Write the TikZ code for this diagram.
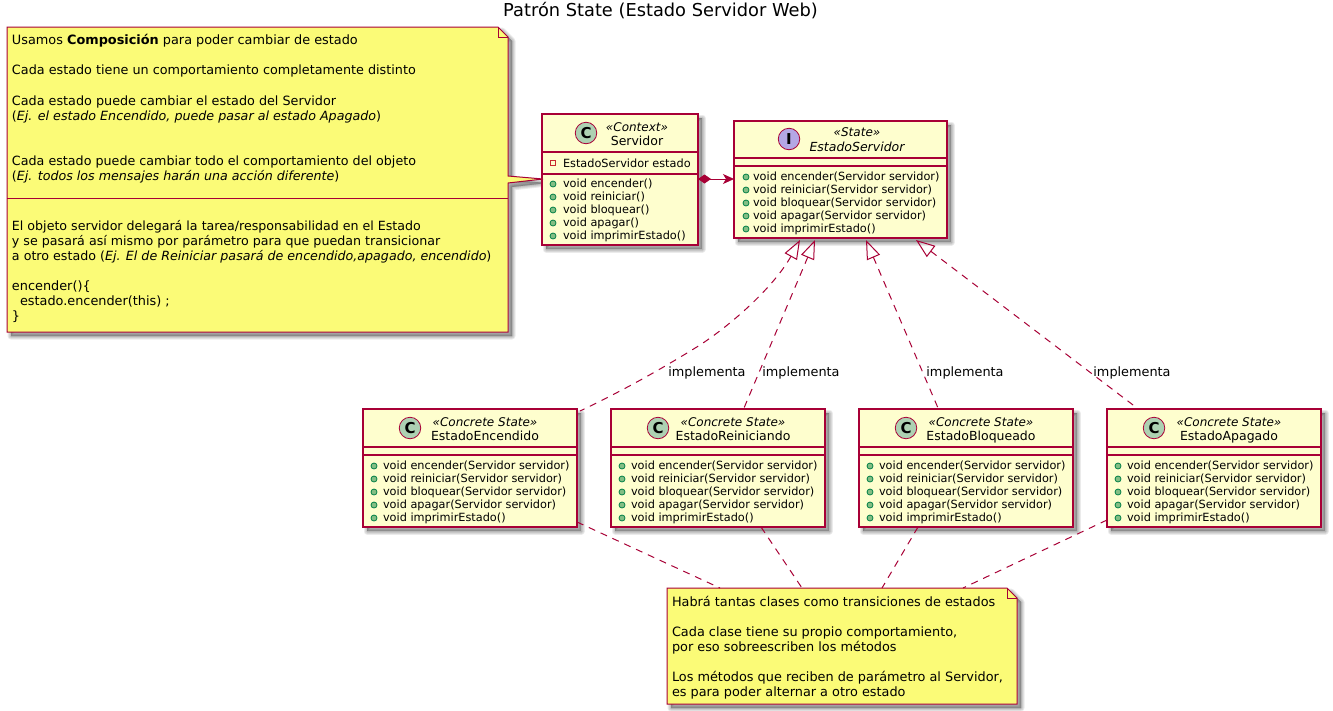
\documentclass[tikz,border=0pt]{standalone}
\usepackage{fontspec}
\setmainfont{DejaVu Sans}
\usetikzlibrary{arrows.meta,calc}
\definecolor{crim}{HTML}{A80036}
\definecolor{classbg}{HTML}{FEFECE}
\definecolor{notebg}{HTML}{FBFB77}
\definecolor{cgreen}{HTML}{ADD1B2}
\definecolor{ipurple}{HTML}{B4A7E5}
\definecolor{pubfill}{HTML}{84BE84}
\definecolor{publine}{HTML}{038048}
\definecolor{privline}{HTML}{C82930}
\newcommand\memfont{\fontsize{11.3}{13}\selectfont}
\newcommand\stfont{\fontsize{12}{13}\selectfont}
\newcommand\namefont{\fontsize{12.5}{13}\selectfont}
\newcommand\softshadow[1]{%
  \foreach \w in {7,5,3,1}{\draw[black,fill=black,opacity=0.08,line width=\w pt,line join=round] #1;}}
\newcommand\ctext[4]{\node[txt,anchor=base] (#1) at (#2,#3) {#4};}
\newcommand\ltext[5][12.85]{\node[txt,anchor=base west] (#2) at (#3,#4) {\fontsize{#1}{15}\selectfont\strut #5};}
\newcommand\mtext[4]{\node[txt,anchor=base west] (#1) at (#2,#3) {\memfont #4};}
% #1 name #2 left #3 top #4 right #5 bottom #6 div1 #7 div2
\newcommand\classbox[7]{%
  \softshadow{(#2+4,#3+4) rectangle (#4+4,#5+4)}
  \node[cbox,anchor=north west,minimum width=(#4)-(#2),minimum height=(#5)-(#3)] (#1) at (#2,#3) {};
  \draw[crim,line width=1.1pt] (#2,#6) -- (#4,#6) (#2,#7) -- (#4,#7);
}
\newcommand\badge[5]{\node[badgec,fill=#4] (#1) at (#2,#3) {\fontsize{15}{15}\selectfont\bfseries #5};}
\newcommand\pubdot[3]{\node[pubd] (#1) at (#2,#3) {};}
\tikzset{
  x=1pt,y=-1pt,
  txt/.style={inner sep=0pt,outer sep=0pt,text=black},
  cbox/.style={draw=crim,fill=classbg,line width=1.1pt,inner sep=0pt,outer sep=0pt},
  badgec/.style={circle,draw=crim,line width=.8pt,minimum size=21.5pt,inner sep=0pt,outer sep=0pt},
  pubd/.style={circle,draw=publine,fill=pubfill,line width=.8pt,minimum size=6pt,inner sep=0pt,outer sep=0pt},
  notebox/.style={draw=none,inner sep=0pt,outer sep=0pt},
  rel/.style={crim,line width=1pt},
  dashrel/.style={rel,dash pattern=on 7pt off 6pt},
  inh/.style={dashrel,{Triangle[open,length=19pt,width=14pt,line width=1pt]}-},
}
\begin{document}
\begin{tikzpicture}
\useasboundingbox (0,0) rectangle (1333,710);
\fill[white] (0,0) rectangle (1333,710);
\node[txt,anchor=base] (title) at (660.5,16) {\fontsize{17.8}{20}\selectfont Patrón State (Estado Servidor Web)};

% ---- note 1
\softshadow{(7+4,27+4) -- (498+4,27+4) -- (508+4,37+4) -- (508+4,176+4) -- (543+4,179+4) -- (508+4,183+4) -- (508+4,332+4) -- (7+4,332+4) -- cycle}
\node[notebox,anchor=north west,minimum width=501,minimum height=305] (noteA) at (7,27) {};

% ---- Servidor
\classbox{srv}{542}{114}{698}{245}{152}{174}
\badge{srvB}{586}{133}{cgreen}{C}
\ctext{srvS}{637}{131}{\stfont\itshape «Context»}
\ctext{srvN}{637}{145}{\namefont Servidor}
\node[draw=privline,line width=.8pt,minimum size=5.5pt,inner sep=0pt,outer sep=0pt] (srvP) at (553,163) {};
\mtext{srvA}{563}{167}{EstadoServidor estado}
\foreach \i/\yy/\t in {1/184/void encender(),2/197/void reiniciar(),3/210/void bloquear(),4/223/void apagar(),5/236/void imprimirEstado()}{
  \pubdot{srvD\i}{553}{\yy}
  \mtext{srvM\i}{563}{\yy+3.5}{\t}
}

% ---- EstadoServidor
\classbox{st}{734}{121}{947}{238}{158}{166}
\badge{stB}{789}{139}{ipurple}{I}
\ctext{stS}{857}{136}{\stfont\itshape «State»}
\ctext{stN}{857}{151}{\namefont\itshape EstadoServidor}
\foreach \i/\yy/\t in {1/177/void encender(Servidor servidor),2/190/void reiniciar(Servidor servidor),3/203/void bloquear(Servidor servidor),4/216/void apagar(Servidor servidor),5/229/void imprimirEstado()}{
  \pubdot{stD\i}{746}{\yy}
  \mtext{stM\i}{753}{\yy+3.5}{\t}
}

% ---- concrete states
\foreach \k/\off/\nm in {a/0/EstadoEncendido,b/248/EstadoReiniciando,c/496/EstadoBloqueado,d/744/EstadoApagado}{
  \classbox{cs\k}{363+\off}{409}{577+\off}{527}{447}{455}
  \badge{cs\k B}{410+\off}{428}{cgreen}{C}
  \ctext{cs\k S}{485+\off}{426}{\stfont\itshape «Concrete State»}
  \ctext{cs\k N}{485+\off}{440}{\namefont\nm}
  \foreach \i/\yy/\t in {1/466/void encender(Servidor servidor),2/479/void reiniciar(Servidor servidor),3/492/void bloquear(Servidor servidor),4/505/void apagar(Servidor servidor),5/518/void imprimirEstado()}{
    \pubdot{cs\k D\i}{374+\off}{\yy}
    \mtext{cs\k M\i}{383+\off}{\yy+3.5}{\t}
  }
}

% ---- note 2
\softshadow{(667+4,588+4) -- (1007+4,588+4) -- (1017+4,598+4) -- (1017+4,704+4) -- (667+4,704+4) -- cycle}
\node[notebox,anchor=north west,minimum width=350,minimum height=116] (noteB) at (667,588) {};

% note bodies
\draw[crim,fill=notebg,line width=1pt,line join=miter]
  (noteA.north west) -- ([xshift=-10pt]noteA.north east) -- ([yshift=-10pt]noteA.north east)
  -- ([yshift=-149pt]noteA.north east) -- ($(srv.west)+(1,-0.5)$) -- ([yshift=-156pt]noteA.north east)
  -- (noteA.south east) -- (noteA.south west) -- cycle;
\draw[crim,line width=1pt] ([xshift=-10pt]noteA.north east) |- ([yshift=-10pt]noteA.north east);
\draw[crim,line width=1pt] ([yshift=-171pt]noteA.north west) -- ([yshift=-171pt]noteA.north east);
\draw[crim,fill=notebg,line width=1pt]
  (noteB.north west) -- ([xshift=-10pt]noteB.north east) -- ([yshift=-10pt]noteB.north east)
  -- (noteB.south east) -- (noteB.south west) -- cycle;
\draw[crim,line width=1pt] ([xshift=-10pt]noteB.north east) |- ([yshift=-10pt]noteB.north east);

\ltext{a1}{12}{44}{Usamos \textbf{Composición} para poder cambiar de estado}
\ltext[12.78]{a2}{12}{74}{Cada estado tiene un comportamiento completamente distinto}
\ltext[12.77]{a3}{12}{105}{Cada estado puede cambiar el estado del Servidor}
\ltext[12.68]{a4}{12}{120}{(\textit{Ej. el estado Encendido, puede pasar al estado Apagado})}
\ltext[12.7]{a5}{12}{165}{Cada estado puede cambiar todo el comportamiento del objeto}
\ltext[12.66]{a6}{12}{180}{(\textit{Ej. todos los mensajes harán una acción diferente})}
\ltext[12.63]{a7}{12}{230}{El objeto servidor delegará la tarea/responsabilidad en el Estado}
\ltext[12.65]{a8}{12}{245}{y se pasará así mismo por parámetro para que puedan transicionar}
\ltext[12.66]{a9}{12}{260}{a otro estado (\textit{Ej. El de Reiniciar pasará de encendido,apagado, encendido})}
\ltext{a10}{12}{290}{encender()\{}
\ltext{a11}{20}{305}{estado.encender(this) ;}
\ltext{a12}{12}{320}{\}}

\ltext{b1}{672}{606}{Habrá tantas clases como transiciones de estados}
\ltext{b2}{672}{636}{Cada clase tiene su propio comportamiento,}
\ltext{b3}{672}{651}{por eso sobreescriben los métodos}
\ltext{b4}{672}{681}{Los métodos que reciben de parámetro al Servidor,}
\ltext{b5}{672}{696}{es para poder alternar a otro estado}

% ---- relations
\draw[rel,{Diamond[length=13pt,width=9pt,fill=crim]}-{Stealth[length=11pt,width=10pt,inset=3pt,fill=crim]}]
  ($(srv.east)+(0,-0.5)$) -- ($(srv.east -| st.west)+(0,-0.5)$);
\coordinate (t1) at ($(st.south west)+(66,2)$);
\coordinate (t2) at ($(st.south west)+(81,2)$);
\coordinate (t3) at ($(st.south west)+(132,2)$);
\coordinate (t4) at ($(st.south west)+(182,2)$);
\draw[inh] (t1) .. controls (775,285) and (735,322) .. (700,345) .. controls (660,370) and (620,392) .. ($(csa.north east)+(3,2)$);
\draw[inh] (t2) -- ($(csb.north west)+(133,-1)$);
\draw[inh] (t3) -- ($(csc.north west)+(79,-1)$);
\draw[inh] (t4) -- ($(csd.north west)+(30,-1)$);
\draw[dashrel] ($(csa.south east)+(0,-5)$) -- ($(noteB.north west)+(53,0)$);
\draw[dashrel] ($(csb.south west)+(150,0)$) -- ($(noteB.north west)+(135,0)$);
\draw[dashrel] ($(csc.south west)+(59,0)$) -- ($(noteB.north west)+(215,0)$);
\draw[dashrel] ($(csd.south west)+(0,-7)$) -- ($(noteB.north west)+(296,0)$);

\foreach \n/\x in {l1/707,l2/801,l3/965,l4/1132}{
  \node[txt,anchor=base] (\n) at (\x,376.5) {\fontsize{12.85}{15}\selectfont implementa};
}
\end{tikzpicture}
\end{document}
